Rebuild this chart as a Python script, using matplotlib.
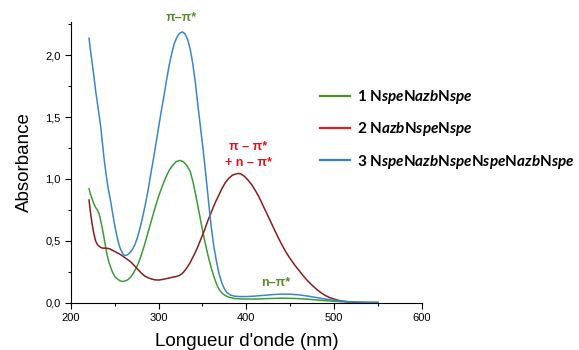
import matplotlib
matplotlib.use("Agg")
import matplotlib.pyplot as plt
from matplotlib.lines import Line2D
from matplotlib.ticker import FuncFormatter, MultipleLocator

plt.rcParams['font.family'] = ['Liberation Sans', 'DejaVu Sans']
plt.rcParams['mathtext.fontset'] = 'custom'
plt.rcParams['mathtext.rm'] = 'Lato:bold'
plt.rcParams['mathtext.it'] = 'Lato:italic:bold'
plt.rcParams['mathtext.bf'] = 'Lato:bold'

# spectra (wavelength nm, absorbance)
wl_1 = [220.6, 222, 224, 226, 228, 230, 232, 234, 236, 238, 240, 242, 244, 246, 248, 250, 253,
        256, 259, 262, 265, 268, 271, 274, 277, 280, 284, 288, 292, 296, 300, 304, 308, 312,
        316, 320, 324, 328, 332, 336, 339, 342, 345, 348, 351, 354, 357, 360, 363, 366, 369,
        372, 376, 380, 386, 395, 410, 425, 440, 455, 470, 485, 500, 515, 530, 550]
abs_1 = [0.92, 0.88, 0.84, 0.80, 0.77, 0.75, 0.72, 0.66, 0.59, 0.51, 0.43, 0.36, 0.31, 0.27,
         0.235, 0.21, 0.19, 0.175, 0.17, 0.175, 0.185, 0.205, 0.235, 0.275, 0.32, 0.38, 0.47,
         0.57, 0.67, 0.77, 0.86, 0.94, 1.01, 1.07, 1.11, 1.14, 1.15, 1.14, 1.11, 1.06, 0.98,
         0.88, 0.77, 0.66, 0.55, 0.45, 0.36, 0.28, 0.21, 0.15, 0.105, 0.078, 0.056, 0.043,
         0.033, 0.028, 0.028, 0.032, 0.035, 0.033, 0.027, 0.018, 0.01, 0.004, 0.0, 0.0]

wl_2 = [220.6, 222, 224, 226, 228, 230, 233, 236, 240, 244, 248, 252, 256, 260, 264, 268, 272,
        276, 280, 284, 288, 292, 296, 300, 304, 308, 312, 316, 320, 324, 327, 330, 333, 336,
        340, 344, 348, 352, 356, 360, 364, 368, 372, 376, 380, 384, 388, 391, 394, 398, 402,
        406, 410, 414, 418, 422, 426, 430, 435, 440, 445, 450, 455, 460, 465, 470, 475, 480,
        485, 490, 495, 500, 505, 510, 515, 520, 530, 540, 550]
abs_2 = [0.83, 0.74, 0.64, 0.56, 0.50, 0.47, 0.45, 0.44, 0.44, 0.435, 0.42, 0.405, 0.39, 0.37,
         0.35, 0.33, 0.30, 0.27, 0.24, 0.215, 0.20, 0.19, 0.183, 0.182, 0.186, 0.192, 0.198,
         0.205, 0.21, 0.22, 0.235, 0.26, 0.29, 0.325, 0.38, 0.44, 0.51, 0.58, 0.66, 0.73, 0.80,
         0.86, 0.92, 0.97, 1.005, 1.03, 1.04, 1.045, 1.04, 1.02, 0.99, 0.955, 0.91, 0.86, 0.80,
         0.74, 0.68, 0.62, 0.545, 0.475, 0.41, 0.355, 0.305, 0.26, 0.215, 0.175, 0.14, 0.108,
         0.08, 0.057, 0.04, 0.028, 0.018, 0.011, 0.007, 0.004, 0.001, 0.0, 0.0]

wl_3 = [220.6, 222, 224, 226, 228, 230, 232, 234, 236, 238, 240, 242, 245, 248, 250, 252, 254,
        256, 258, 260, 262, 264, 266, 268, 270, 273, 276, 279, 282, 285, 288, 291, 294, 297,
        300, 303, 306, 309, 312, 315, 318, 321, 324, 327, 330, 333, 336, 339, 342, 345, 348,
        351, 354, 357, 360, 363, 366, 369, 372, 375, 378, 382, 386, 392, 400, 410, 420, 430,
        440, 450, 460, 470, 480, 490, 500, 510, 520, 530, 540, 550]
abs_3 = [2.14, 2.05, 1.95, 1.84, 1.72, 1.62, 1.52, 1.42, 1.28, 1.15, 1.04, 0.94, 0.83, 0.70,
         0.62, 0.55, 0.49, 0.44, 0.41, 0.385, 0.38, 0.385, 0.395, 0.41, 0.43, 0.47, 0.53, 0.61,
         0.70, 0.80, 0.91, 1.04, 1.16, 1.29, 1.42, 1.55, 1.67, 1.80, 1.92, 2.02, 2.10, 2.15,
         2.18, 2.19, 2.175, 2.13, 2.05, 1.93, 1.77, 1.58, 1.40, 1.22, 1.02, 0.81, 0.61, 0.45,
         0.33, 0.23, 0.16, 0.11, 0.08, 0.06, 0.052, 0.048, 0.048, 0.052, 0.058, 0.064, 0.068,
         0.067, 0.062, 0.052, 0.04, 0.028, 0.018, 0.01, 0.005, 0.002, 0.0, 0.0]

labels = [r"1 N$\mathit{spe}$N$\mathit{azb}$N$\mathit{spe}$",
          r"2 N$\mathit{azb}$N$\mathit{spe}$N$\mathit{spe}$",
          r"3 N$\mathit{spe}$N$\mathit{azb}$N$\mathit{spe}$N$\mathit{spe}$N$\mathit{azb}$N$\mathit{spe}$"]

line_colors = ['#3a9e35', '#8b1d1d', '#3a86cc']
legend_colors = ['#4f8f2a', '#d42428', '#3a80c8']

fig = plt.figure(figsize=(5.79, 3.5), dpi=100)
ax = fig.add_axes([0.1226, 0.1357, 0.6057, 0.8014])

ax.plot(wl_1, abs_1, color=line_colors[0], lw=1.1)
ax.plot(wl_2, abs_2, color=line_colors[1], lw=1.1)
ax.plot(wl_3, abs_3, color=line_colors[2], lw=1.1)

ax.set_xlim(200, 600)
ax.set_ylim(0, 2.27)
ax.spines['top'].set_visible(False)
ax.spines['right'].set_visible(False)
ax.xaxis.set_major_locator(MultipleLocator(100))
ax.xaxis.set_minor_locator(MultipleLocator(50))
ax.yaxis.set_major_locator(MultipleLocator(0.5))
ax.yaxis.set_minor_locator(MultipleLocator(0.25))
ax.yaxis.set_major_formatter(FuncFormatter(lambda v, p: ("%.1f" % v).replace('.', ',')))
ax.tick_params(which='major', direction='out', length=4, width=0.8, labelsize=8)
ax.tick_params(which='minor', direction='out', length=2.5, width=0.8)

ax.set_xlabel("Longueur d'onde (nm)", fontsize=13.5, labelpad=7)
ax.set_ylabel("Absorbance", fontsize=13.5, labelpad=9)

# band assignments
ax.text(325.5, 2.30, "π–π*", color='#5b8c2a', fontsize=9, fontweight='bold',
        ha='center', va='center', clip_on=False)
ax.text(402, 1.26, "π – π*", color='#e0141e', fontsize=9, fontweight='bold',
        ha='center', va='center')
ax.text(402, 1.13, "+ n – π*", color='#e0141e', fontsize=9, fontweight='bold',
        ha='center', va='center')
ax.text(433, 0.16, "n–π*", color='#5b8c2a', fontsize=9, fontweight='bold',
        ha='center', va='center')

handles = [Line2D([], [], color=c, lw=1.6) for c in legend_colors]
fig.legend(handles, labels, loc='upper left', bbox_to_anchor=(0.552, 0.748),
           frameon=False, prop={'family': 'Lato', 'weight': 'bold', 'size': 11},
           handlelength=1.96, handletextpad=0.52,
           labelspacing=0.93, borderpad=0, borderaxespad=0)

fig.savefig("out.png", dpi=100)
